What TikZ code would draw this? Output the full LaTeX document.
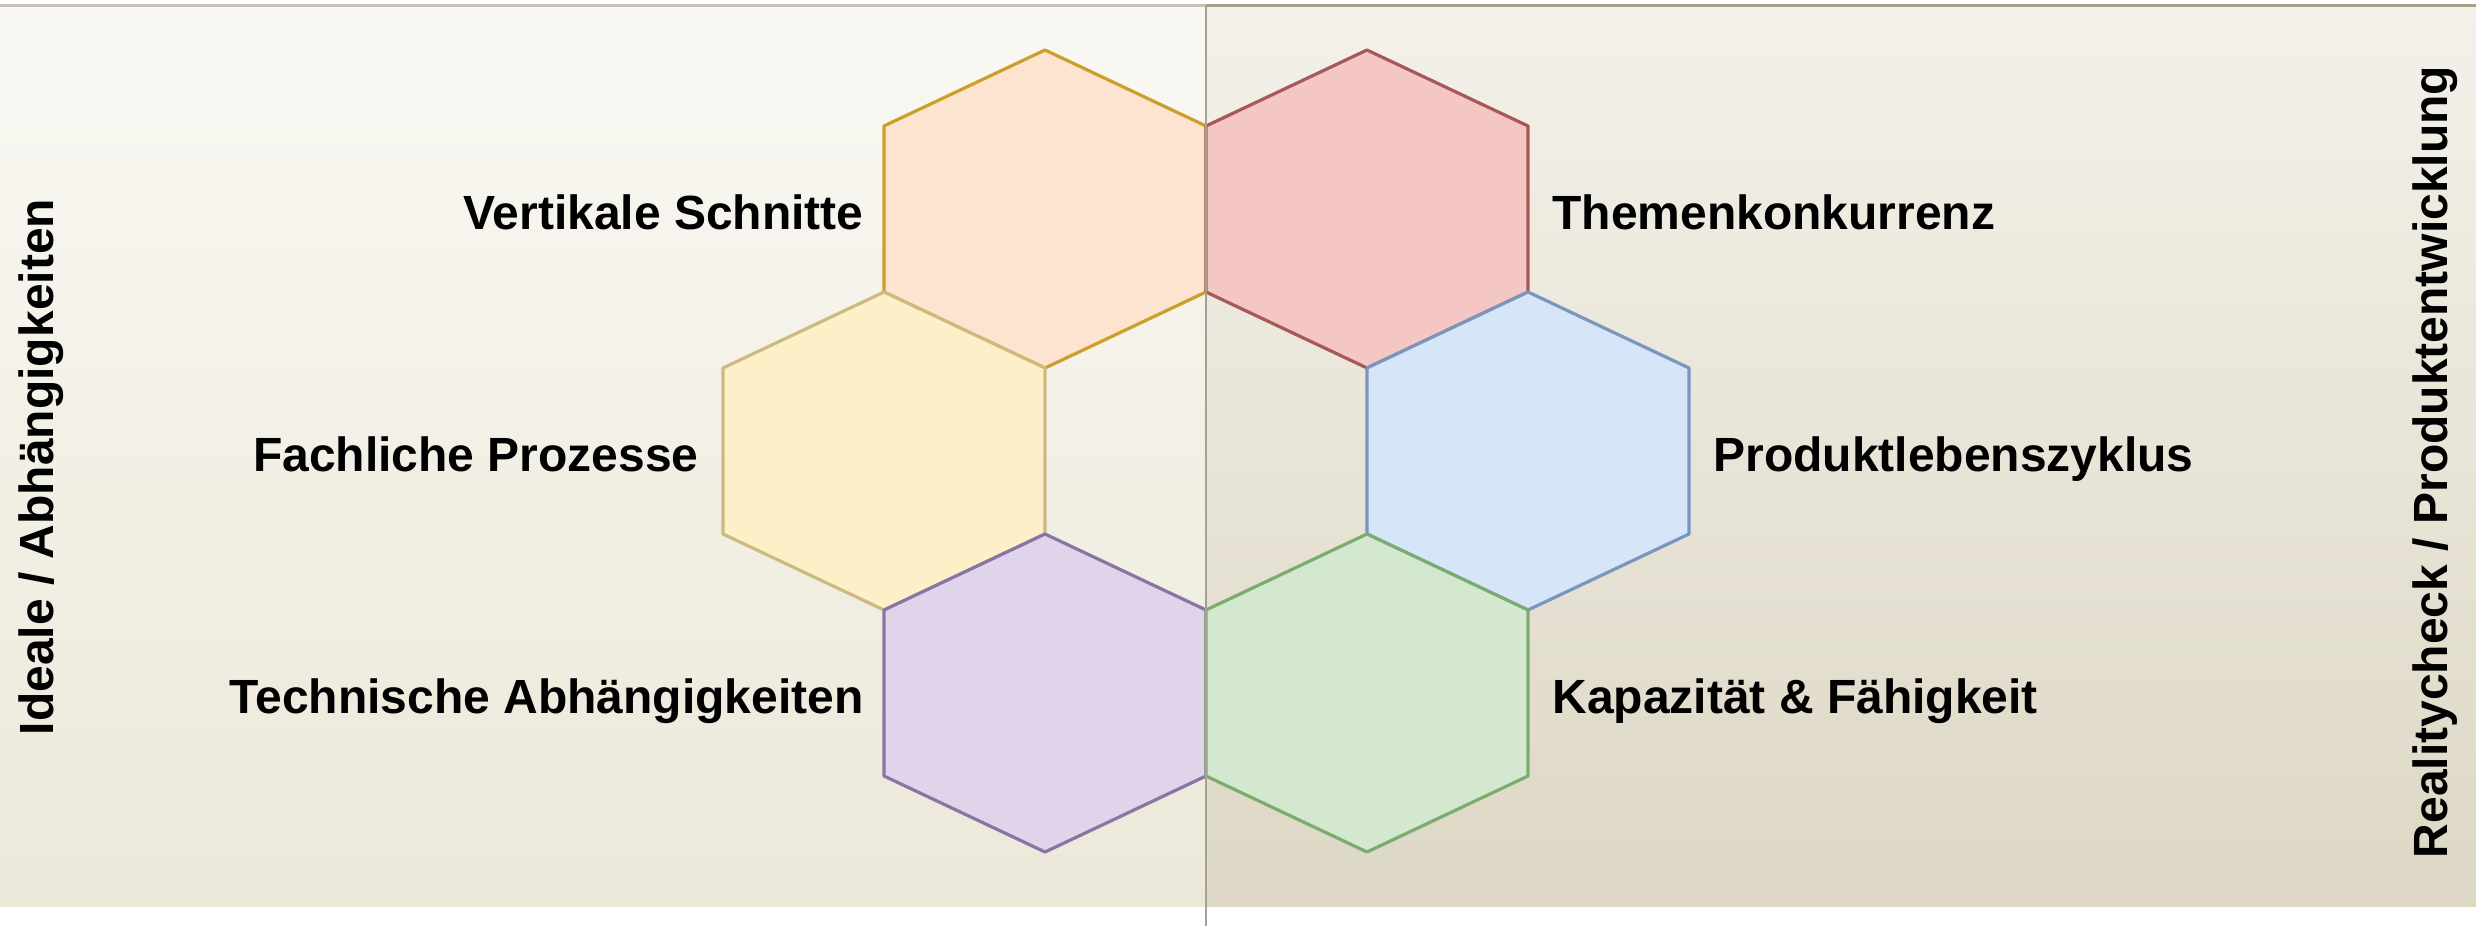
\documentclass[tikz,border=0pt]{standalone}
\usepackage{fontspec}
\setmainfont{Liberation Sans}
\begin{document}
\begin{tikzpicture}[x=0.5pt,y=-0.5pt,
  lbl/.style={font=\fontsize{24}{28}\selectfont\bfseries, inner sep=0pt, text=black},
  hexline/.style={line width=1.6pt, line join=round}]
\definecolor{lbgtop}{HTML}{F9F8F3}
\definecolor{lbgbot}{HTML}{ECE8D9}
\definecolor{rbgtop}{HTML}{F3F1EA}
\definecolor{rbgbot}{HTML}{DDD7C4}
\definecolor{topl}{HTML}{C6C2B5}
\definecolor{topr}{HTML}{A5A18B}
\definecolor{divc}{HTML}{A5A294}
\definecolor{orF}{HTML}{FDE4D0}\definecolor{orD}{HTML}{CC9F2A}
\definecolor{rdF}{HTML}{F4C6C4}\definecolor{rdD}{HTML}{A85858}
\definecolor{ylF}{HTML}{FDF0C9}\definecolor{ylD}{HTML}{CDBA80}
\definecolor{blF}{HTML}{D6E5F7}\definecolor{blD}{HTML}{7A96BE}
\definecolor{puF}{HTML}{E0D4EA}\definecolor{puD}{HTML}{8A73A5}
\definecolor{grF}{HTML}{D3E8CF}\definecolor{grD}{HTML}{7BAC6E}
\useasboundingbox (0,0) rectangle (2476,926);
\fill[white] (0,0) rectangle (2476,926);
% panels
\shade[top color=lbgtop, bottom color=lbgbot] (0,5) rectangle (1206,906);
\shade[top color=rbgtop, bottom color=rbgbot] (1206,5) rectangle (2476,906);
\draw[topl, line width=1.5pt] (0,5) -- (1206,5);
\draw[topr, line width=1.5pt] (1206,5) -- (2476,5);
% hexagons: #1 cx, #2 ytop, #3 fill, #4 draw
\newcommand{\myhex}[4]{%
  \filldraw[hexline, fill=#3, draw=#4] (#1,#2) -- ({#1+161},{#2+76}) -- ({#1+161},{#2+242})
    -- (#1,{#2+318}) -- ({#1-161},{#2+242}) -- ({#1-161},{#2+76}) -- cycle;}
\myhex{1045}{50}{orF}{orD}
\myhex{1367}{50}{rdF}{rdD}
\myhex{884}{292}{ylF}{ylD}
\myhex{1528}{292}{blF}{blD}
\myhex{1045}{534}{puF}{puD}
\myhex{1367}{534}{grF}{grD}
% divider
\draw[divc, line width=1.4pt] (1206,5) -- (1206,926);
% labels
\node[lbl, anchor=base east] (vs) at (864,229) {Vertikale Schnitte};
\node[lbl, anchor=base east] (fp) at (699,471) {Fachliche Prozesse};
\node[lbl, anchor=base east] (ta) at (864,713) {Technische Abhängigkeiten};
\node[lbl, anchor=base west] (tk) at (1552,229) {Themenkonkurrenz};
\node[lbl, anchor=base west] (pl) at (1713,471) {Produktlebenszyklus};
\node[lbl, anchor=base west] (kf) at (1552,713) {Kapazität \& Fähigkeit};
\node[lbl, anchor=base, rotate=90] (ia) at (54,467) {Ideale / Abhängigkeiten};
\node[lbl, anchor=base, rotate=90] (rp) at (2447,462) {Realitycheck / Produktentwicklung};
\end{tikzpicture}
\end{document}
